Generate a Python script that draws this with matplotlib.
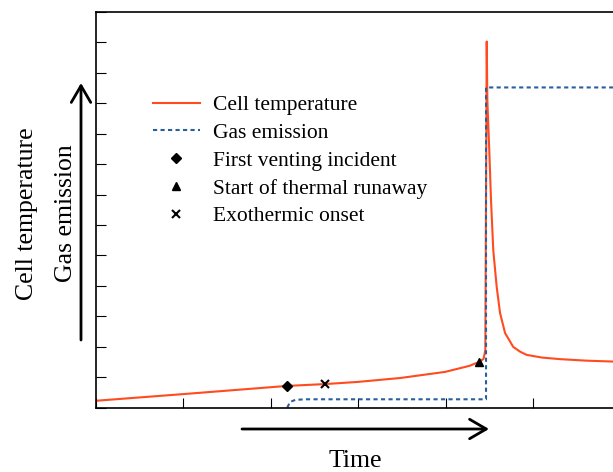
import matplotlib
matplotlib.use("Agg")
import matplotlib.pyplot as plt
import numpy as np

plt.rcParams['font.family'] = ['Liberation Serif', 'DejaVu Serif']

# 电池温度曲线
temp_x = [0, 1.0, 2.19, 2.62, 2.99, 3.48, 3.99, 4.27, 4.38, 4.43, 4.45, 4.466,
          4.473, 4.495, 4.515, 4.541, 4.580, 4.618, 4.675, 4.769, 4.85, 4.922,
          5.1, 5.302, 5.6, 5.908, 6.0]
temp_y = [0.22, 0.44, 0.71, 0.77, 0.84, 0.97, 1.17, 1.37, 1.50, 1.60, 1.89, 12.03,
          10.12, 8.47, 6.81, 5.16, 3.96, 3.11, 2.45, 1.99, 1.83, 1.73,
          1.64, 1.59, 1.54, 1.51, 1.51]

# 气体排放
gas_x = [2.19, 2.22, 2.28, 2.39, 4.458, 4.458, 6.0]
gas_y = [0.0, 0.18, 0.25, 0.27, 0.27, 10.52, 10.52]

# 特征点
vent_pt = (2.19, 0.71)
runaway_pt = (4.38, 1.50)
exo_pt = (2.62, 0.77)

labels = ['Cell temperature', 'Gas emission', 'First venting incident',
          'Start of thermal runaway', 'Exothermic onset']

fig = plt.figure(figsize=(6.13, 4.72), dpi=100)
ax = fig.add_axes([95.5/613, 64.5/472, 525.6/613, 395.5/472])

ax.plot(temp_x, temp_y, color='#ff4b1f', lw=1.5, label=labels[0])
ax.plot(gas_x, gas_y, color='#2a5f9e', lw=1.5, ls=(0, (2, 1.6)), label=labels[1])
ax.plot(*vent_pt, marker='D', ms=5, color='black', ls='none', label=labels[2])
ax.plot(*runaway_pt, marker='^', ms=6, color='black', ls='none', label=labels[3])
ax.plot(*exo_pt, marker='x', ms=6, mew=1.5, color='black', ls='none', label=labels[4])

ax.set_xlim(0, 6)
ax.set_ylim(0, 13)
ax.set_xticks(np.arange(0, 7, 1))
ax.set_yticks(np.arange(0, 14, 1))
ax.tick_params(direction='in', length=7.2, width=0.8, labelbottom=False, labelleft=False)
for s in ax.spines.values():
    s.set_linewidth(1.2)

ax.legend(loc='upper left', bbox_to_anchor=(153/613, 1 - 95/472), bbox_transform=fig.transFigure,
          frameon=False, fontsize=15.5, handlelength=2.18, handletextpad=0.6,
          labelspacing=0.36, borderpad=0, borderaxespad=0)

# 坐标轴标题
fig.text(33/613, 1 - 214/472, 'Cell temperature', rotation=90, fontsize=18.5,
         ha='center', va='baseline', rotation_mode='anchor')
fig.text(72/613, 1 - 213/472, 'Gas emission', rotation=90, fontsize=18.5,
         ha='center', va='baseline', rotation_mode='anchor')
fig.text(355/613, 1 - 467/472, 'Time', fontsize=18.5, ha='center', va='baseline')

# 箭头
arrow = dict(arrowstyle='->,head_length=0.6,head_width=0.35', lw=2, color='black',
             mutation_scale=20, shrinkA=0, shrinkB=0)
ax.annotate('', xy=(81/613, 1 - 83/472), xytext=(81/613, 1 - 340/472),
            xycoords='figure fraction', arrowprops=arrow, annotation_clip=False)
ax.annotate('', xy=(489/613, 1 - 429/472), xytext=(242/613, 1 - 429/472),
            xycoords='figure fraction', arrowprops=arrow, annotation_clip=False)

fig.savefig('out.png', dpi=100)
